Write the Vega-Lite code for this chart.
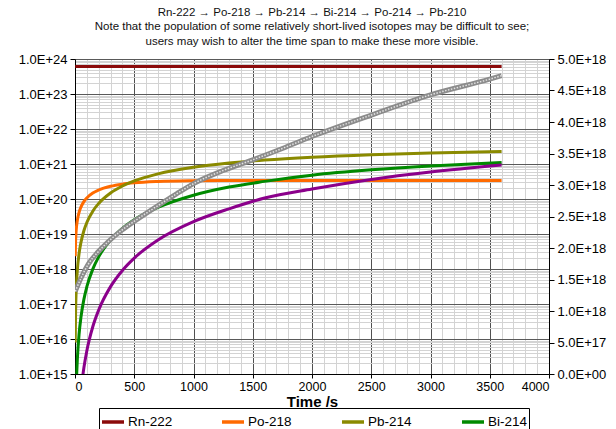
{
  "$schema": "https://vega.github.io/schema/vega-lite/v6.json",
  "width": 474,
  "height": 315,
  "autosize": {"type": "none"},
  "padding": {"left": 75, "top": 59, "right": 67, "bottom": 55},
  "background": "white",
  "title": {
    "text": [
      "Rn-222 → Po-218 → Pb-214 → Bi-214 → Po-214 → Pb-210",
      "Note that the population of some relatively short-lived isotopes may be difficult to see;",
      "users may wish to alter the time span to make these more visible."
    ],
    "font": "Liberation Sans",
    "fontSize": 11.5,
    "fontWeight": "normal",
    "color": "#111111",
    "lineHeight": 14.5,
    "offset": 6,
    "anchor": "middle"
  },
  "datasets": {
    "main": [
      {"iso": "Rn-222", "t": 1.8, "n": 6.15e23},
      {"iso": "Rn-222", "t": 900, "n": 6.138e23},
      {"iso": "Rn-222", "t": 1800, "n": 6.127e23},
      {"iso": "Rn-222", "t": 2700, "n": 6.115e23},
      {"iso": "Rn-222", "t": 3600, "n": 6.104e23},
      {"iso": "Po-218", "t": 1.8, "n": 2.314e18},
      {"iso": "Po-218", "t": 5, "n": 6.389e18},
      {"iso": "Po-218", "t": 10, "n": 1.266e19},
      {"iso": "Po-218", "t": 20, "n": 2.485e19},
      {"iso": "Po-218", "t": 35, "n": 4.228e19},
      {"iso": "Po-218", "t": 50, "n": 5.876e19},
      {"iso": "Po-218", "t": 75, "n": 8.422e19},
      {"iso": "Po-218", "t": 100, "n": 1.0737e20},
      {"iso": "Po-218", "t": 150, "n": 1.4759e20},
      {"iso": "Po-218", "t": 200, "n": 1.8087e20},
      {"iso": "Po-218", "t": 300, "n": 2.3119e20},
      {"iso": "Po-218", "t": 400, "n": 2.6563e20},
      {"iso": "Po-218", "t": 500, "n": 2.8921e20},
      {"iso": "Po-218", "t": 700, "n": 3.164e20},
      {"iso": "Po-218", "t": 1000, "n": 3.3268e20},
      {"iso": "Po-218", "t": 1300, "n": 3.379e20},
      {"iso": "Po-218", "t": 1600, "n": 3.3958e20},
      {"iso": "Po-218", "t": 2000, "n": 3.402e20},
      {"iso": "Po-218", "t": 2500, "n": 3.4034e20},
      {"iso": "Po-218", "t": 3000, "n": 3.4037e20},
      {"iso": "Po-218", "t": 3600, "n": 3.4037e20},
      {"iso": "Pb-214", "t": 1.8, "n": 7.9e15},
      {"iso": "Pb-214", "t": 5, "n": 6.07e16},
      {"iso": "Pb-214", "t": 10, "n": 2.41e17},
      {"iso": "Pb-214", "t": 20, "n": 9.51e17},
      {"iso": "Pb-214", "t": 35, "n": 2.855e18},
      {"iso": "Pb-214", "t": 50, "n": 5.7e18},
      {"iso": "Pb-214", "t": 75, "n": 1.24e19},
      {"iso": "Pb-214", "t": 100, "n": 2.131e19},
      {"iso": "Pb-214", "t": 150, "n": 4.488e19},
      {"iso": "Pb-214", "t": 200, "n": 7.483e19},
      {"iso": "Pb-214", "t": 300, "n": 1.488e20},
      {"iso": "Pb-214", "t": 400, "n": 2.351e20},
      {"iso": "Pb-214", "t": 500, "n": 3.284e20},
      {"iso": "Pb-214", "t": 700, "n": 5.225e20},
      {"iso": "Pb-214", "t": 1000, "n": 8.071e20},
      {"iso": "Pb-214", "t": 1300, "n": 1.0674e21},
      {"iso": "Pb-214", "t": 1600, "n": 1.2994e21},
      {"iso": "Pb-214", "t": 2000, "n": 1.567e21},
      {"iso": "Pb-214", "t": 2500, "n": 1.843e21},
      {"iso": "Pb-214", "t": 3000, "n": 2.066e21},
      {"iso": "Pb-214", "t": 3600, "n": 2.277e21},
      {"iso": "Bi-214", "t": 5, "n": 4.36e13},
      {"iso": "Bi-214", "t": 10, "n": 3.47e14},
      {"iso": "Bi-214", "t": 15, "n": 1.164e15},
      {"iso": "Bi-214", "t": 20, "n": 2.742e15},
      {"iso": "Bi-214", "t": 35, "n": 1.444e16},
      {"iso": "Bi-214", "t": 50, "n": 4.137e16},
      {"iso": "Bi-214", "t": 75, "n": 1.356e17},
      {"iso": "Bi-214", "t": 100, "n": 3.122e17},
      {"iso": "Bi-214", "t": 150, "n": 9.95e17},
      {"iso": "Bi-214", "t": 200, "n": 2.23e18},
      {"iso": "Bi-214", "t": 300, "n": 6.745e18},
      {"iso": "Bi-214", "t": 400, "n": 1.4384e19},
      {"iso": "Bi-214", "t": 500, "n": 2.537e19},
      {"iso": "Bi-214", "t": 700, "n": 5.735e19},
      {"iso": "Bi-214", "t": 1000, "n": 1.2776e20},
      {"iso": "Bi-214", "t": 1300, "n": 2.1931e20},
      {"iso": "Bi-214", "t": 1600, "n": 3.1866e20},
      {"iso": "Bi-214", "t": 2000, "n": 4.799e20},
      {"iso": "Bi-214", "t": 2500, "n": 6.8026e20},
      {"iso": "Bi-214", "t": 3000, "n": 8.7641e20},
      {"iso": "Bi-214", "t": 3600, "n": 1.0955e21},
      {"iso": "Pb-210", "t": 50, "n": 3.04e14},
      {"iso": "Pb-210", "t": 60, "n": 6.23e14},
      {"iso": "Pb-210", "t": 75, "n": 1.501e15},
      {"iso": "Pb-210", "t": 100, "n": 4.634e15},
      {"iso": "Pb-210", "t": 150, "n": 2.241e16},
      {"iso": "Pb-210", "t": 200, "n": 6.769e16},
      {"iso": "Pb-210", "t": 300, "n": 3.138e17},
      {"iso": "Pb-210", "t": 400, "n": 9.108e17},
      {"iso": "Pb-210", "t": 500, "n": 2.05e18},
      {"iso": "Pb-210", "t": 700, "n": 6.72e18},
      {"iso": "Pb-210", "t": 1000, "n": 2.248e19},
      {"iso": "Pb-210", "t": 1300, "n": 5.241e19},
      {"iso": "Pb-210", "t": 1600, "n": 1.0637e20},
      {"iso": "Pb-210", "t": 2000, "n": 1.9287e20},
      {"iso": "Pb-210", "t": 2500, "n": 3.6104e20},
      {"iso": "Pb-210", "t": 3000, "n": 5.8701e20},
      {"iso": "Pb-210", "t": 3600, "n": 9.3075e20}
    ],
    "gray": [
      {"iso": "Po-214", "t": 2, "n": 1.31e18},
      {"iso": "Po-214", "t": 55, "n": 1.54e18},
      {"iso": "Po-214", "t": 111, "n": 1.74e18},
      {"iso": "Po-214", "t": 196, "n": 1.94e18},
      {"iso": "Po-214", "t": 280, "n": 2.10e18},
      {"iso": "Po-214", "t": 393, "n": 2.28e18},
      {"iso": "Po-214", "t": 505, "n": 2.43e18},
      {"iso": "Po-214", "t": 714, "n": 2.69e18},
      {"iso": "Po-214", "t": 857, "n": 2.86e18},
      {"iso": "Po-214", "t": 1009, "n": 3.03e18},
      {"iso": "Po-214", "t": 1250, "n": 3.23e18},
      {"iso": "Po-214", "t": 1500, "n": 3.40e18},
      {"iso": "Po-214", "t": 1750, "n": 3.58e18},
      {"iso": "Po-214", "t": 2000, "n": 3.77e18},
      {"iso": "Po-214", "t": 2500, "n": 4.11e18},
      {"iso": "Po-214", "t": 3000, "n": 4.43e18},
      {"iso": "Po-214", "t": 3500, "n": 4.68e18},
      {"iso": "Po-214", "t": 3600, "n": 4.735e18}
    ]
  },
  "layer": [
    {
      "data": {"name": "main"},
      "mark": {"type": "line", "opacity": 0, "clip": true},
      "encoding": {
        "x": {
          "field": "t", "type": "quantitative",
          "scale": {"domain": [0, 4000], "nice": false, "zero": false},
          "axis": {
            "orient": "top",
            "values": [100,200,300,400,600,700,800,900,1100,1200,1300,1400,1600,1700,1800,1900,2100,2200,2300,2400,2600,2700,2800,2900,3100,3200,3300,3400,3600,3700,3800,3900],
            "labels": false, "ticks": false, "domain": false, "title": null,
            "grid": true, "gridColor": "#d3d3d3", "gridWidth": 1, "gridOpacity": 1
          }
        },
        "y": {
          "field": "n", "type": "quantitative",
          "scale": {"type": "log", "domain": [1e15, 1e24], "nice": false},
          "axis": {
            "orient": "left",
            "values": [2e15,3e15,4e15,5e15,6e15,7e15,8e15,9e15,2e16,3e16,4e16,5e16,6e16,7e16,8e16,9e16,2e17,3e17,4e17,5e17,6e17,7e17,8e17,9e17,2e18,3e18,4e18,5e18,6e18,7e18,8e18,9e18,2e19,3e19,4e19,5e19,6e19,7e19,8e19,9e19,2e20,3e20,4e20,5e20,6e20,7e20,8e20,9e20,2e21,3e21,4e21,5e21,6e21,7e21,8e21,9e21,2e22,3e22,4e22,5e22,6e22,7e22,8e22,9e22,2e23,3e23,4e23,5e23,6e23,7e23,8e23,9e23],
            "labels": false, "ticks": false, "domain": false, "title": null,
            "grid": true, "gridColor": "#d3d3d3", "gridWidth": 1, "gridOpacity": 1
          }
        },
        "detail": {"field": "iso"}
      }
    },
    {
      "data": {"name": "main"},
      "mark": {"type": "line", "strokeWidth": 3, "clip": true, "interpolate": "monotone"},
      "encoding": {
        "x": {
          "field": "t", "type": "quantitative",
          "scale": {"domain": [0, 4000], "nice": false, "zero": false},
          "axis": {
            "orient": "bottom",
            "values": [0,500,1000,1500,2000,2500,3000,3500,4000],
            "format": "d",
            "grid": true, "gridColor": "#505050", "gridWidth": 1, "gridOpacity": 1,
            "domainColor": "#000", "tickColor": "#000", "tickSize": 4,
            "labelFont": "Liberation Sans", "labelFontSize": 12.5, "labelColor": "#000", "labelPadding": 2,
            "title": "Time /s", "titleFont": "Liberation Sans", "titleFontSize": 15, "titleFontWeight": "bold", "titleColor": "#000", "titlePadding": 2
          }
        },
        "y": {
          "field": "n", "type": "quantitative",
          "scale": {"type": "log", "domain": [1e15, 1e24], "nice": false},
          "axis": {
            "orient": "left",
            "values": [1e15,1e16,1e17,1e18,1e19,1e20,1e21,1e22,1e23,1e24],
            "labelExpr": "'1.0E+' + format(round(log(datum.value)/LN10), 'd')",
            "grid": true, "gridColor": "#595959", "gridWidth": 1, "gridOpacity": 1,
            "domainColor": "#000", "tickColor": "#000", "tickSize": 5,
            "labelFont": "Liberation Sans", "labelFontSize": 13, "labelColor": "#000", "labelPadding": 3,
            "title": null
          }
        },
        "color": {
          "field": "iso", "type": "nominal",
          "scale": {
            "domain": ["Rn-222", "Po-218", "Pb-214", "Bi-214", "Po-214", "Pb-210"],
            "range": ["#8b0a0a", "#ff6a00", "#8a8a00", "#008a00", "#8c8c8c", "#8b008b"]
          },
          "legend": {
            "orient": "none", "legendX": 24, "legendY": 349,
            "direction": "horizontal", "columns": 4, "title": null,
            "symbolType": "stroke", "symbolSize": 484, "symbolStrokeWidth": 3.5,
            "labelFont": "Liberation Sans", "labelFontSize": 13.5, "labelColor": "#000", "labelOffset": 2,
            "columnPadding": 42, "rowPadding": 12, "padding": 1, "gridAlign": "all",
            "strokeColor": "#000", "fillColor": "white"
          }
        }
      }
    },
    {
      "data": {"name": "gray"},
      "encoding": {
        "x": {"field": "t", "type": "quantitative", "scale": {"domain": [0, 4000], "nice": false, "zero": false}, "axis": null},
        "y": {
          "field": "n", "type": "quantitative",
          "scale": {"domain": [0, 5e18], "nice": false},
          "axis": {
            "orient": "right",
            "values": [0,5e17,1e18,1.5e18,2e18,2.5e18,3e18,3.5e18,4e18,4.5e18,5e18],
            "labelExpr": "datum.value == 0 ? '0.0E+00' : format(datum.value / pow(10, floor(log(datum.value)/LN10 + 1e-6)), '.1f') + 'E+' + format(floor(log(datum.value)/LN10 + 1e-6), '02d')",
            "grid": false,
            "domainColor": "#000", "tickColor": "#000", "tickSize": 5,
            "labelFont": "Liberation Sans", "labelFontSize": 13, "labelColor": "#000", "labelPadding": 3,
            "title": null
          }
        }
      },
      "layer": [
        {"mark": {"type": "line", "stroke": "#8c8c8c", "strokeWidth": 5, "clip": true, "interpolate": "monotone"}},
        {"mark": {"type": "line", "stroke": "#e2e2e2", "strokeWidth": 1.5, "strokeDash": [1.5, 1.5], "clip": true, "interpolate": "monotone"}}
      ]
    }
  ],
  "resolve": {"scale": {"y": "independent"}, "axis": {"x": "independent", "y": "independent"}},
  "config": {"view": {"stroke": null}}
}
